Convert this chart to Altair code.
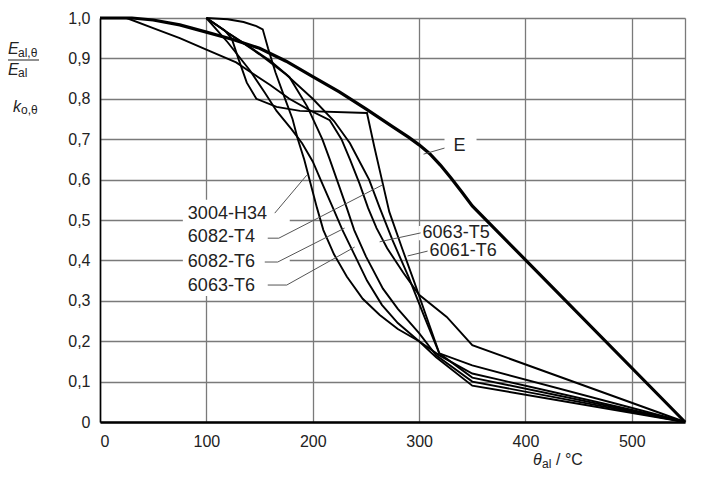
import altair as alt
import pandas as pd

# ---------------- data ----------------
E_T = [0, 30, 50, 75, 100, 125, 150, 175, 200, 225, 250, 275, 290, 300, 310, 320, 330, 340, 350, 550]
E_k = [1.0, 1.0, 0.995, 0.983, 0.965, 0.947, 0.925, 0.893, 0.855, 0.817, 0.775, 0.731, 0.705, 0.686, 0.664, 0.636, 0.604, 0.570, 0.535, 0.0]

A_T = [100, 120, 135, 147, 153, 158, 165, 174, 181, 186, 192, 198, 204, 210, 220, 232, 247, 263, 280, 300, 319, 350, 550]
A_k = [1.0, 0.997, 0.99, 0.98, 0.972, 0.925, 0.865, 0.80, 0.75, 0.70, 0.65, 0.59, 0.53, 0.475, 0.415, 0.36, 0.305, 0.265, 0.23, 0.20, 0.165, 0.12, 0.0]

B_T = [100, 120, 141, 155, 166, 180, 190, 200, 209, 219, 228, 240, 251, 265, 280, 300, 316, 350, 550]
B_k = [1.0, 0.94, 0.87, 0.815, 0.77, 0.725, 0.69, 0.645, 0.59, 0.53, 0.475, 0.41, 0.35, 0.29, 0.245, 0.20, 0.16, 0.09, 0.0]

C_T = [100, 122, 141, 160, 178, 195, 209, 216, 224, 232, 239, 250, 266, 280, 300, 316, 350, 550]
C_k = [1.0, 0.96, 0.928, 0.894, 0.854, 0.78, 0.70, 0.65, 0.59, 0.53, 0.475, 0.41, 0.33, 0.28, 0.22, 0.165, 0.10, 0.0]

D_T = [25, 50, 75, 100, 128, 141, 160, 178, 197, 216, 227, 235, 244, 252, 260, 270, 285, 300, 326, 350, 550]
D_k = [1.0, 0.975, 0.95, 0.922, 0.89, 0.867, 0.834, 0.80, 0.772, 0.747, 0.70, 0.65, 0.59, 0.53, 0.48, 0.43, 0.37, 0.315, 0.26, 0.19, 0.0]

F_T = [100, 125, 150, 175, 200, 220, 235, 245, 253, 263, 275, 290, 305, 319, 350, 550]
F_k = [1.0, 0.955, 0.91, 0.86, 0.80, 0.745, 0.69, 0.64, 0.60, 0.53, 0.45, 0.36, 0.26, 0.17, 0.11, 0.0]

G_T = [100, 117, 124, 130, 138, 147, 166, 188, 251, 258, 265, 272, 284, 295, 307, 319, 350, 550]
G_k = [1.0, 0.97, 0.948, 0.90, 0.84, 0.80, 0.78, 0.77, 0.765, 0.68, 0.60, 0.52, 0.43, 0.35, 0.26, 0.17, 0.14, 0.0]

thin_curves = {"a": (A_T, A_k), "b": (B_T, B_k), "c": (C_T, C_k),
               "d": (D_T, D_k), "f": (F_T, F_k), "g": (G_T, G_k)}

label_names = ["3004-H34", "6082-T4", "6082-T6", "6063-T6", "6063-T5", "6061-T6", "E"]
label_T = [82.6, 82.6, 82.6, 82.6, 303.3, 309.9, 332.4]
label_k = [0.515, 0.458, 0.396, 0.337, 0.468, 0.423, 0.683]

leader_names = ["3004-H34", "3004-H34",
                "6082-T4", "6082-T4", "6082-T4",
                "6082-T6", "6082-T6", "6082-T6",
                "6063-T6", "6063-T6", "6063-T6",
                "6063-T5", "6063-T5",
                "6061-T6", "6061-T6",
                "E", "E"]
leader_T = [164.3, 194.4,
            157.7, 168.1, 265.7,
            154.9, 167.1, 230.0,
            157.7, 175.6, 239.4,
            301.4, 262.9,
            308.0, 289.2,
            323.9, 304.2]
leader_k = [0.517, 0.611,
            0.455, 0.455, 0.587,
            0.396, 0.396, 0.480,
            0.339, 0.339, 0.433,
            0.468, 0.446,
            0.423, 0.411,
            0.678, 0.663]

box_T1 = [77.9, 323.9, 299.5, 307.0]
box_T2 = [178.4, 354.0, 366.0, 369.0]
box_k1 = [0.312, 0.658, 0.450, 0.403]
box_k2 = [0.550, 0.718, 0.485, 0.443]

x_ticks = [0, 100, 200, 300, 400, 500, 550]
y_ticks = [0, 0.1, 0.2, 0.3, 0.4, 0.5, 0.6, 0.7, 0.8, 0.9, 1.0]

# ---------------- tables ----------------
rows = []
for name, (ts, ks) in thin_curves.items():
    for i, (t, k) in enumerate(zip(ts, ks)):
        rows.append({"s": name, "T": t, "k": k, "o": i})
thin_df = pd.DataFrame(rows)
e_df = pd.DataFrame({"T": E_T, "k": E_k, "o": list(range(len(E_T)))})
lab_df = pd.DataFrame({"name": label_names, "T": label_T, "k": label_k})
lead_df = pd.DataFrame({"name": leader_names, "T": leader_T, "k": leader_k,
                        "o": list(range(len(leader_T)))})
box_df = pd.DataFrame({"T1": box_T1, "T2": box_T2, "k1": box_k1, "k2": box_k2})

FONT = "Liberation Sans"
TXT = "#222222"

xscale = alt.Scale(domain=[0, 550], nice=False, zero=False)
yscale = alt.Scale(domain=[0, 1], nice=False)

xaxis = alt.Axis(values=x_ticks, grid=True, gridColor="#7a7a7a", gridWidth=1.3,
                 ticks=False, domainColor="#000000", domainWidth=2.4,
                 labelExpr="datum.value == 550 ? '' : datum.label",
                 labelFontSize=16, labelColor=TXT, labelPadding=11, labelFont=FONT,
                 title=None)
yaxis = alt.Axis(values=y_ticks, grid=True, gridColor="#7a7a7a", gridWidth=1.3,
                 ticks=False, domainColor="#000000", domainWidth=1.6,
                 labelExpr="datum.value == 0 ? '0' : replace(format(datum.value, '.1f'), '.', ',')",
                 labelFontSize=16, labelColor=TXT, labelPadding=10, labelFont=FONT,
                 title=None)

thin = alt.Chart(thin_df).mark_line(color="#000000", strokeWidth=1.9).encode(
    x=alt.X("T:Q", scale=xscale, axis=xaxis),
    y=alt.Y("k:Q", scale=yscale, axis=yaxis),
    detail="s:N",
    order="o:Q",
)

eline = alt.Chart(e_df).mark_line(color="#000000", strokeWidth=3.2).encode(
    x=alt.X("T:Q", scale=xscale), y=alt.Y("k:Q", scale=yscale), order="o:Q")

boxes = alt.Chart(box_df).mark_rect(color="#ffffff").encode(
    x=alt.X("T1:Q", scale=xscale), x2="T2:Q",
    y=alt.Y("k1:Q", scale=yscale), y2="k2:Q")

leaders = alt.Chart(lead_df).mark_line(color="#555555", strokeWidth=1.0).encode(
    x=alt.X("T:Q", scale=xscale), y=alt.Y("k:Q", scale=yscale),
    detail="name:N", order="o:Q")

labels = alt.Chart(lab_df).mark_text(align="left", baseline="middle", fontSize=18,
                                     font=FONT, color=TXT).encode(
    x=alt.X("T:Q", scale=xscale), y=alt.Y("k:Q", scale=yscale), text="name:N")


def txt(s, x, y, size=16, italic=False, align="left"):
    return alt.Chart(pd.DataFrame({"t": [s]})).mark_text(
        align=align, baseline="alphabetic", fontSize=size, font=FONT, color=TXT,
        fontStyle="italic" if italic else "normal").encode(
        x=alt.value(x), y=alt.value(y), text="t:N")


bar = alt.Chart(pd.DataFrame({"t": [0]})).mark_rule(color=TXT, strokeWidth=1.2).encode(
    x=alt.value(-95), x2=alt.value(-61), y=alt.value(42))

titles = [
    txt("E", -92, 36, 16, True), txt("al,θ", -82, 39, 12),
    bar,
    txt("E", -92, 57, 16, True), txt("al", -82, 59, 12),
    txt("k", -87, 94, 16, True), txt("o,θ", -79, 96, 12),
    txt("θ", 433, 447, 16, True), txt("al", 442, 450, 12), txt("/ °C", 456, 447, 16),
]

chart = alt.layer(thin, eline, boxes, leaders, labels, *titles).properties(
    width=585, height=404,
    autosize=alt.AutoSizeParams(type="none"),
    padding={"left": 92, "top": 10, "right": 17, "bottom": 50},
).configure_view(stroke=None).configure(font=FONT, background="#ffffff")

chart.save("out.html", embed_options={"renderer": "svg", "actions": False})
